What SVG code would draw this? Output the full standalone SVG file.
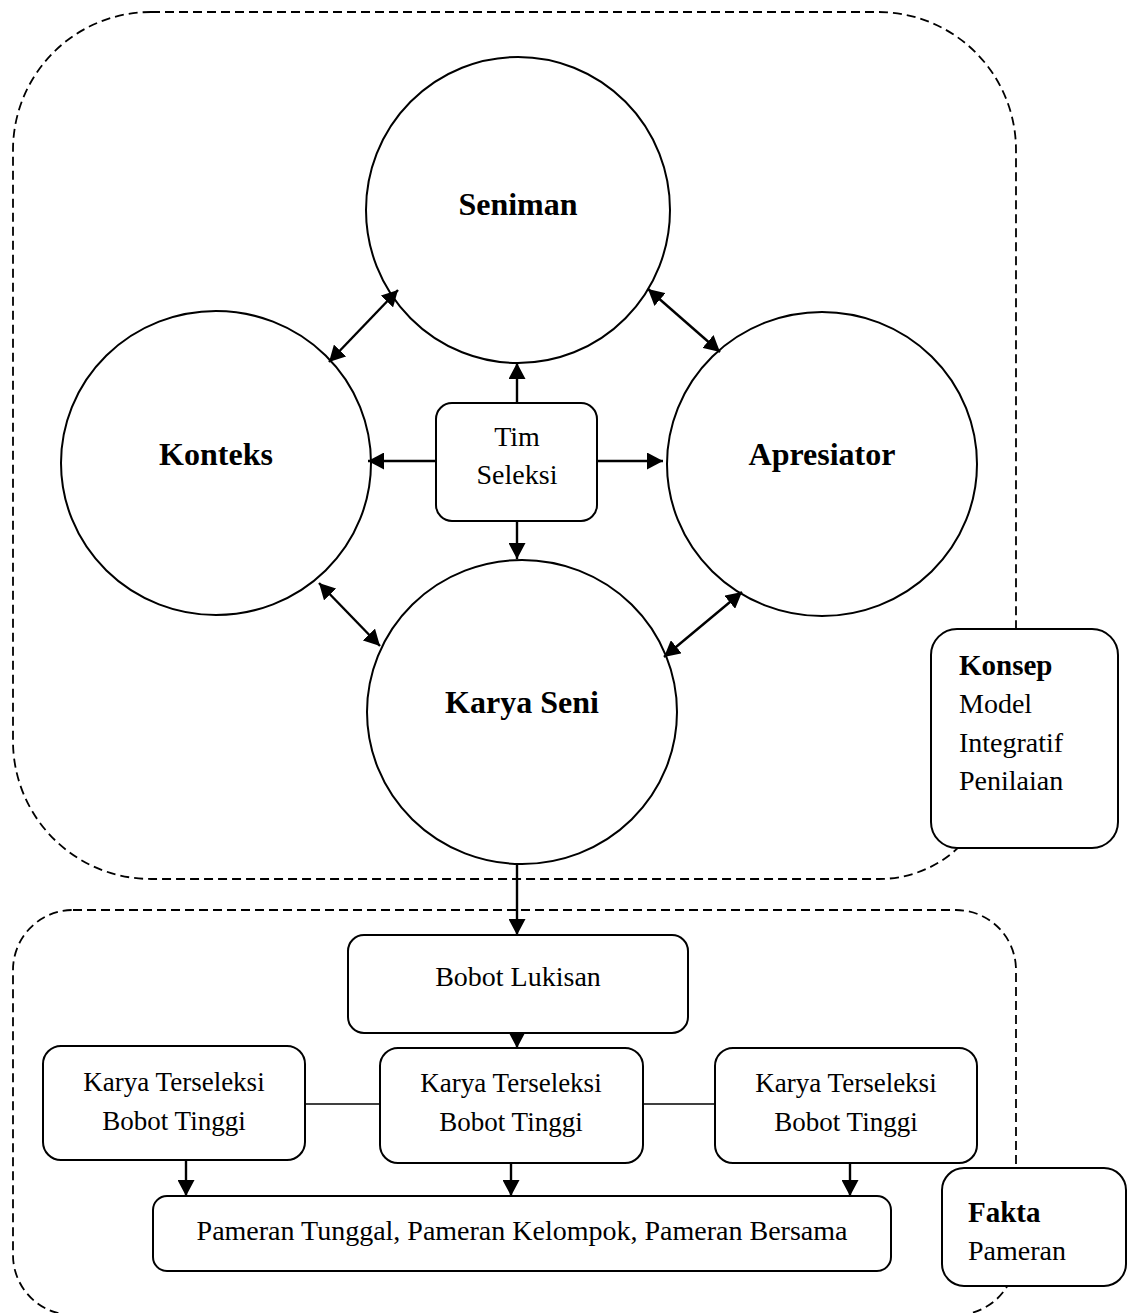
<svg xmlns="http://www.w3.org/2000/svg" width="1129" height="1313" viewBox="0 0 1129 1313">
  <style>
    .zone { fill: none; stroke: #000; stroke-width: 1.8; stroke-dasharray: 9 5; }
    .ring { fill: #fff; stroke: #000; stroke-width: 2; }
    .box { fill: #fff; stroke: #000; stroke-width: 2; }
    .link { fill: none; stroke: #000; stroke-width: 2.4; }
    .plain { fill: none; stroke: #000; stroke-width: 1.6; }
    text { font-family: "Liberation Serif", "Times New Roman", serif; fill: #000; }
    .big { font-size: 32px; font-weight: bold; text-anchor: middle; }
    .mid { font-size: 28px; text-anchor: middle; }
    .sel { font-size: 27px; text-anchor: middle; }
    .head { font-size: 29px; font-weight: bold; }
    .side { font-size: 28px; }
  </style>
  <defs>
    <marker id="arrow" markerUnits="userSpaceOnUse" markerWidth="17" markerHeight="17" refX="16" refY="8.5" orient="auto-start-reverse">
      <path d="M0,0 L16,8.5 L0,17 Z" fill="#000"/>
    </marker>
  </defs>

  <!-- dashed zones -->
  <g id="zones">
    <path id="zone-konsep" class="zone" d="M151,12 H878 A138 138 0 0 1 1016 150 V700 L995 765 A116 116 0 0 1 879 879 H151 A138 138 0 0 1 13 741 V150 A138 138 0 0 1 151 12 Z"/>
    <rect id="zone-fakta" class="zone" x="13" y="910" width="1003" height="405" rx="60" ry="60"/>
  </g>

  <!-- circles -->
  <g id="seniman">
    <ellipse class="ring" cx="518" cy="210" rx="152" ry="153"/>
    <text class="big" x="518" y="215">Seniman</text>
  </g>
  <g id="konteks">
    <ellipse class="ring" cx="216" cy="463" rx="155" ry="152"/>
    <text class="big" x="216" y="465">Konteks</text>
  </g>
  <g id="apresiator">
    <ellipse class="ring" cx="822" cy="464" rx="155" ry="152"/>
    <text class="big" x="822" y="465">Apresiator</text>
  </g>
  <g id="karya-seni">
    <ellipse class="ring" cx="522" cy="712" rx="155" ry="152"/>
    <text class="big" x="522" y="713">Karya Seni</text>
  </g>

  <!-- connectors -->
  <g id="connectors">
    <line class="link" x1="329" y1="362" x2="398" y2="290" marker-start="url(#arrow)" marker-end="url(#arrow)"/>
    <line class="link" x1="648" y1="289" x2="720" y2="352" marker-start="url(#arrow)" marker-end="url(#arrow)"/>
    <line class="link" x1="319" y1="583" x2="380" y2="646" marker-start="url(#arrow)" marker-end="url(#arrow)"/>
    <line class="link" x1="742" y1="592" x2="664" y2="657" marker-start="url(#arrow)" marker-end="url(#arrow)"/>

    <line class="link" x1="517" y1="403" x2="517" y2="363" marker-end="url(#arrow)"/>
    <line class="link" x1="517" y1="521" x2="517" y2="559" marker-end="url(#arrow)"/>
    <line class="link" x1="436" y1="461" x2="368" y2="461" marker-end="url(#arrow)"/>
    <line class="link" x1="597" y1="461" x2="663" y2="461" marker-end="url(#arrow)"/>

    <line class="link" x1="517" y1="865" x2="517" y2="935" marker-end="url(#arrow)"/>
    <line class="link" x1="517" y1="1033" x2="517" y2="1048" marker-end="url(#arrow)"/>

    <line class="plain" x1="305" y1="1104" x2="380" y2="1104"/>
    <line class="plain" x1="643" y1="1104" x2="715" y2="1104"/>

    <line class="link" x1="186" y1="1160" x2="186" y2="1196" marker-end="url(#arrow)"/>
    <line class="link" x1="511" y1="1163" x2="511" y2="1196" marker-end="url(#arrow)"/>
    <line class="link" x1="850" y1="1163" x2="850" y2="1196" marker-end="url(#arrow)"/>
  </g>

  <!-- boxes -->
  <g id="tim-seleksi">
    <rect class="box" x="436" y="403" width="161" height="118" rx="16"/>
    <text class="mid" x="517" y="446">Tim</text>
    <text class="mid" x="517" y="484">Seleksi</text>
  </g>
  <g id="konsep">
    <rect class="box" x="931" y="629" width="187" height="219" rx="26"/>
    <text class="head" x="959" y="675">Konsep</text>
    <text class="side" x="959" y="713">Model</text>
    <text class="side" x="959" y="752">Integratif</text>
    <text class="side" x="959" y="790">Penilaian</text>
  </g>
  <g id="bobot-lukisan">
    <rect class="box" x="348" y="935" width="340" height="98" rx="16"/>
    <text class="mid" x="518" y="986">Bobot Lukisan</text>
  </g>
  <g id="karya-kiri">
    <rect class="box" x="43" y="1046" width="262" height="114" rx="18"/>
    <text class="sel" x="174" y="1091">Karya Terseleksi</text>
    <text class="sel" x="174" y="1130">Bobot Tinggi</text>
  </g>
  <g id="karya-tengah">
    <rect class="box" x="380" y="1048" width="263" height="115" rx="18"/>
    <text class="sel" x="511" y="1092">Karya Terseleksi</text>
    <text class="sel" x="511" y="1131">Bobot Tinggi</text>
  </g>
  <g id="karya-kanan">
    <rect class="box" x="715" y="1048" width="262" height="115" rx="18"/>
    <text class="sel" x="846" y="1092">Karya Terseleksi</text>
    <text class="sel" x="846" y="1131">Bobot Tinggi</text>
  </g>
  <g id="pameran">
    <rect class="box" x="153" y="1196" width="738" height="75" rx="14"/>
    <text class="mid" x="522" y="1240">Pameran Tunggal, Pameran Kelompok, Pameran Bersama</text>
  </g>
  <g id="fakta">
    <rect class="box" x="942" y="1168" width="184" height="118" rx="22"/>
    <text class="head" x="968" y="1222">Fakta</text>
    <text class="side" x="968" y="1260">Pameran</text>
  </g>
</svg>
